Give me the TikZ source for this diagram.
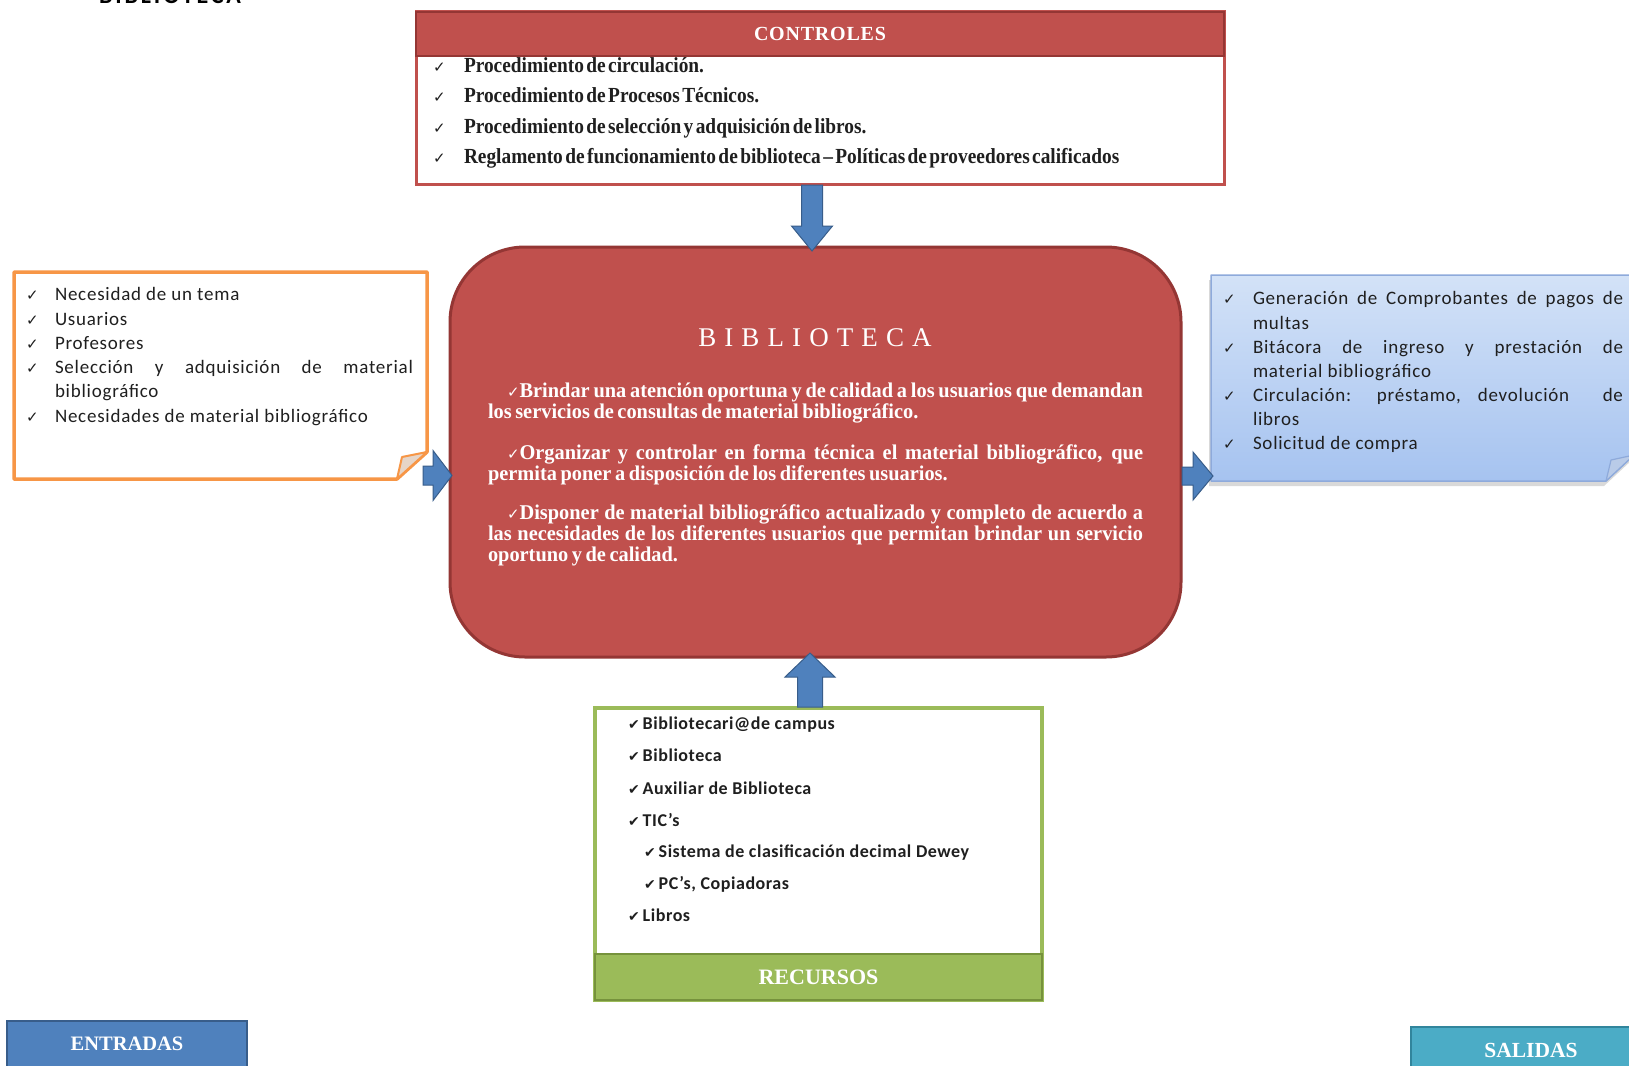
\documentclass[tikz,border=0pt]{standalone}
\usepackage{fontspec}
\setmainfont{Liberation Serif}
\newfontfamily\carl{Carlito}
\newfontfamily\symf{DejaVu Sans}
\newfontfamily\narrowserif{Liberation Serif}[FakeStretch=0.9,WordSpace=0.5]
\newfontfamily\paraserif{Liberation Serif}[FakeStretch=0.97,WordSpace=0.7]
\usetikzlibrary{calc}

\definecolor{redf}{HTML}{C0504D}
\definecolor{redd}{HTML}{943634}
\definecolor{bluef}{HTML}{4F81BD}
\definecolor{blued}{HTML}{385D8A}
\definecolor{orng}{HTML}{F79646}
\definecolor{flapo}{HTML}{E6D5C8}
\definecolor{grn}{HTML}{9BBB59}
\definecolor{grnd}{HTML}{76923C}
\definecolor{aqua}{HTML}{4BACC6}
\definecolor{aquad}{HTML}{31859C}
\definecolor{skytop}{HTML}{D3E2F7}
\definecolor{skybot}{HTML}{A6C3F0}
\definecolor{skyedge}{HTML}{8EAADB}
\definecolor{flapb}{HTML}{B9CBE8}
\definecolor{ink}{HTML}{1F1F1F}

% check mark glyphs (light and heavy)
\newcommand\ck[1]{{\symf\fontsize{#1}{#1}\selectfont\symbol{"2713}}}
\newcommand\hck[1]{{\symf\fontsize{#1}{#1}\selectfont\symbol{"2714}}}
% type faces
\newcommand\itemfont{\carl\addfontfeature{LetterSpace=4}\fontsize{19}{24}\selectfont}
\newcommand\resfont{\carl\bfseries\addfontfeature{LetterSpace=3}\fontsize{18}{22}\selectfont}
\newcommand\ctrlfont{\narrowserif\bfseries\fontsize{21.5}{24}\selectfont}
\newcommand\parfont{\paraserif\bfseries\fontsize{21}{21}\selectfont}

% block arrow: tail, tip, shaft half width, head half width, head length
\newcommand\blockarrow[5]{%
  \coordinate (hb) at ($(#2)!#5!(#1)$);
  \draw[barrow] ($(#1)!#3!90:(#2)$) -- ($(hb)!#3!90:(#2)$) -- ($(hb)!#4!90:(#2)$)
    -- (#2) -- ($(hb)!#4!-90:(#2)$) -- ($(hb)!#3!-90:(#2)$) -- ($(#1)!#3!-90:(#2)$) -- cycle;}

\begin{document}
\begin{tikzpicture}[x=1pt,y=-1pt,
  panel/.style={inner sep=0, outer sep=0, anchor=north west},
  ln/.style={anchor=base west, inner sep=0, outer sep=0},
  hdr/.style={text=white, font=\bfseries\fontsize{21}{21}\selectfont},
  barrow/.style={fill=bluef, draw=blued, line width=1, line join=miter},
  itm/.style={ln, text=ink, font=\itemfont},
  ctl/.style={ln, text=ink, font=\ctrlfont},
  rsc/.style={ln, text=ink, font=\resfont},
  prg/.style={ln, text=white, font=\parfont}]
\path[use as bounding box] (0,0) rectangle (1629,1065);
\clip (0,0) rectangle (1629,1065);
\fill[white] (0,0) rectangle (1629,1065);

% page heading, cut by the top edge
\node[ln, text=black, font=\carl\bfseries\addfontfeature{LetterSpace=12}\fontsize{24}{24}\selectfont] (doctitle) at (99,4) {BIBLIOTECA};

% ---------- CONTROLES ----------
\node[panel, minimum width=808, minimum height=172, draw=redf, line width=3, fill=white] (ctrl) at (416,12) {};
\node[panel, minimum width=808, minimum height=44, fill=redf, draw=redd, line width=1.2, hdr,
      font=\bfseries\addfontfeature{LetterSpace=4}\fontsize{20}{20}\selectfont] (ctrlhead) at (416,12) {CONTROLES};
\foreach \y/\t [count=\i] in {72/{Procedimiento de circulación.},
    102/{Procedimiento de Procesos Técnicos.},
    133/{Procedimiento de selección y adquisición de libros.},
    163/{Reglamento de funcionamiento de biblioteca – Políticas de proveedores calificados}}{
  \node[ln, text=ink] (ck\i) at (433,\y) {\ck{15}};
  \node[ctl] (ct\i) at (464,\y) {\t};
}

% ---------- BIBLIOTECA ----------
\node[panel, minimum width=731, minimum height=410, rounded corners=75, fill=redf, draw=redd, line width=3] (bib) at (450,247) {};
\node[anchor=base, inner sep=0, text=white, font=\addfontfeature{LetterSpace=30}\fontsize{27}{27}\selectfont] (bibtitle) at (815,346) {BIBLIOTECA};
\node[prg] (p1) at (507,397) {\makebox[636pt][s]{\ck{15}Brindar una atención oportuna y de calidad a los usuarios que demandan}};
\node[prg] (p2) at (488,418) {los servicios de consultas de material bibliográfico.};
\node[prg] (p3) at (507,459) {\makebox[636pt][s]{\ck{15}Organizar y controlar en forma técnica el material bibliográfico, que}};
\node[prg] (p4) at (488,480) {permita poner a disposición de los diferentes usuarios.};
\node[prg] (p5) at (507,519) {\makebox[636pt][s]{\ck{15}Disponer de material bibliográfico actualizado y completo de acuerdo a}};
\node[prg] (p6) at (488,540) {\makebox[655pt][s]{las necesidades de los diferentes usuarios que permitan brindar un servicio}};
\node[prg] (p7) at (488,561) {oportuno y de calidad.};

% ---------- inputs (folded note) ----------
\node[panel, minimum width=413, minimum height=207] (inbox) at (14,272) {};
\draw[orng, line width=3.5, fill=white, line join=round]
  (inbox.north west) -- (inbox.north east) -- ($(inbox.south east)+(0,-27)$)
  -- ($(inbox.south east)+(-30,0)$) -- (inbox.south west) -- cycle;
\draw[orng, line width=2, fill=flapo, line join=round]
  ($(inbox.south east)+(-30,0)$) -- ($(inbox.south east)+(-25,-22)$) -- ($(inbox.south east)+(0,-27)$) -- cycle;
\foreach \y in {300,325,349,373,422}{\node[ln, text=ink] at (26,\y) {\ck{15}};}
\node[itm] (i1) at (55,300) {Necesidad de un tema};
\node[itm] (i2) at (55,325) {Usuarios};
\node[itm] (i3) at (55,349) {Profesores};
\node[itm] (i4) at (55,373) {\makebox[358pt][s]{Selección y adquisición de material}};
\node[itm] (i5) at (55,397) {bibliográfico};
\node[itm] (i6) at (55,422) {Necesidades de material bibliográfico};

% ---------- outputs (folded note) ----------
\node[panel, minimum width=423, minimum height=206] (outbox) at (1211,275) {};
\fill[black, opacity=0.15] ($(outbox.north west)+(-2,5)$) -- ($(outbox.north east)+(-2,5)$)
  -- ($(outbox.south east)+(-2,-21)$) -- ($(outbox.south east)+(-30,5)$) -- ($(outbox.south west)+(-2,5)$) -- cycle;
\shade[top color=skytop, bottom color=skybot]
  (outbox.north west) -- (outbox.north east) -- ($(outbox.south east)+(0,-26)$)
  -- ($(outbox.south east)+(-28,0)$) -- (outbox.south west) -- cycle;
\draw[skyedge, line width=1.5, line join=round]
  (outbox.north west) -- (outbox.north east) -- ($(outbox.south east)+(0,-26)$)
  -- ($(outbox.south east)+(-28,0)$) -- (outbox.south west) -- cycle;
\draw[skyedge, line width=1.2, fill=flapb, line join=round]
  ($(outbox.south east)+(-28,0)$) -- ($(outbox.south east)+(-23,-21)$) -- ($(outbox.south east)+(0,-26)$) -- cycle;
\foreach \y in {304,353,401,449}{\node[ln, text=ink] at (1223,\y) {\ck{15}};}
\node[itm] (o1) at (1253,304) {\makebox[370pt][s]{Generación de Comprobantes de pagos de}};
\node[itm] (o2) at (1253,329) {multas};
\node[itm] (o3) at (1253,353) {\makebox[370pt][s]{Bitácora de ingreso y prestación de}};
\node[itm] (o4) at (1253,377) {material bibliográfico};
\node[itm] (o5) at (1253,401) {\makebox[370pt][s]{Circulación: préstamo, devolución \quad de}};
\node[itm] (o6) at (1253,425) {libros};
\node[itm] (o7) at (1253,449) {Solicitud de compra};

% ---------- RECURSOS ----------
\node[panel, minimum width=447, minimum height=292, draw=grn, line width=3.5, fill=white] (rec) at (595,708) {};
\node[panel, minimum width=447, minimum height=46, fill=grn, draw=grnd, line width=1.5, hdr,
      font=\bfseries\fontsize{22}{22}\selectfont] (rechead) at (595,954) {RECURSOS};
\node[rsc] (r1) at (628,729) {\hck{14}\,Bibliotecari@de campus};
\node[rsc] (r2) at (628,761) {\hck{14}\,Biblioteca};
\node[rsc] (r3) at (628,794) {\hck{14}\,Auxiliar de Biblioteca};
\node[rsc] (r4) at (628,826) {\hck{14}\,TIC’s};
\node[rsc] (r5) at (644,857) {\hck{14}\,Sistema de clasificación decimal Dewey};
\node[rsc] (r6) at (644,889) {\hck{14}\,PC’s, Copiadoras};
\node[rsc] (r7) at (628,921) {\hck{14}\,Libros};

% ---------- corner labels ----------
\node[panel, minimum width=240, minimum height=46, fill=bluef, draw=blued, line width=2.5, hdr,
      font=\bfseries\fontsize{20.5}{20.5}\selectfont] (ent) at (7,1021) {ENTRADAS};
\node[panel, minimum width=240, minimum height=46, fill=aqua, draw=aquad, line width=2.5, hdr,
      font=\bfseries\fontsize{21.5}{21.5}\selectfont] (sal) at (1411,1027) {SALIDAS};

% ---------- block arrows ----------
\coordinate (dnT) at ($(ctrl.south)+(-8,1)$);
\coordinate (dnH) at ($(bib.north)+(-3.5,4)$);
\blockarrow{dnT}{dnH}{10.5pt}{20.5pt}{25pt}
\coordinate (ltT) at ($(inbox.east)+(-4,100)$);
\coordinate (ltH) at ($(bib.west)+(2,23.5)$);
\blockarrow{ltT}{ltH}{9.5pt}{25pt}{19pt}
\coordinate (rtT) at ($(bib.east)+(1,24)$);
\coordinate (rtH) at ($(outbox.west)+(2,98)$);
\blockarrow{rtT}{rtH}{9pt}{24pt}{20pt}
\coordinate (upT) at ($(rec.north)+(-8.5,-1)$);
\coordinate (upH) at ($(bib.south)+(-5.5,-4)$);
\blockarrow{upT}{upH}{12.5pt}{25pt}{24pt}
\end{tikzpicture}
\end{document}
